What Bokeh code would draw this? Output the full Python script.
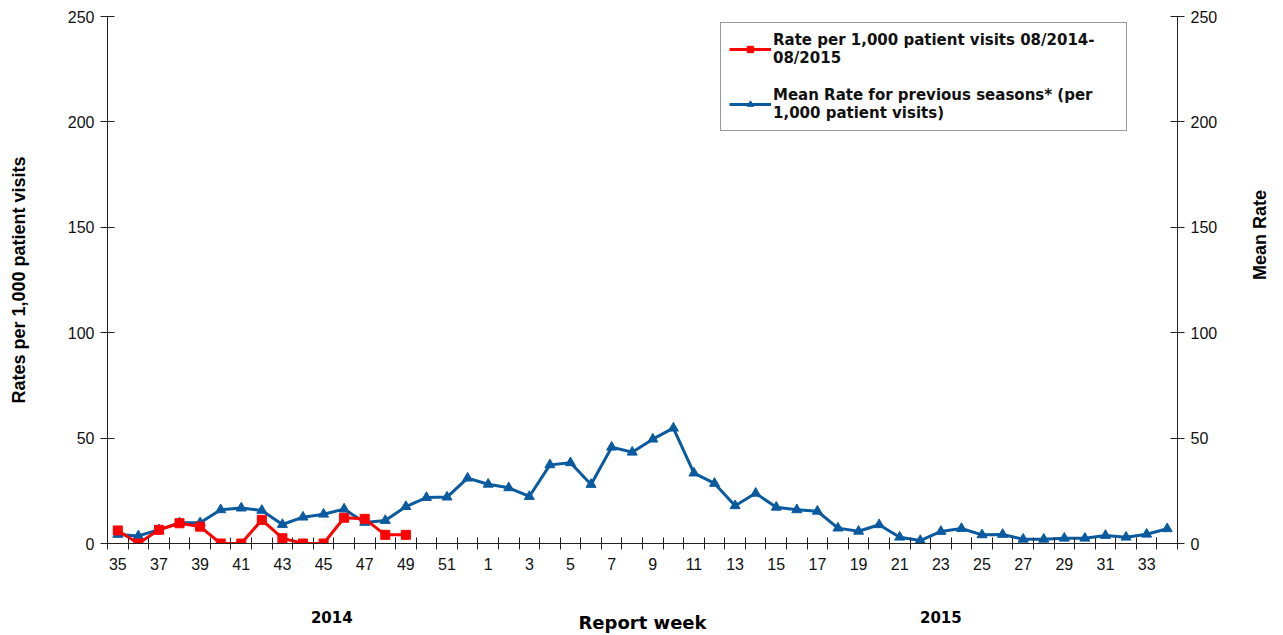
import math
from bokeh.plotting import figure
from bokeh.models import (LinearAxis, Range1d, FixedTicker, Legend, LegendItem,
                          ColumnDataSource)
from bokeh.embed import file_html
from bokeh.resources import INLINE

# ---- data ----
weeks = [35, 36, 37, 38, 39, 40, 41, 42, 43, 44, 45, 46, 47, 48, 49, 50, 51, 52,
         1, 2, 3, 4, 5, 6, 7, 8, 9, 10, 11, 12, 13, 14, 15, 16, 17, 18, 19, 20,
         21, 22, 23, 24, 25, 26, 27, 28, 29, 30, 31, 32, 33, 34]
rate_2014_15 = [6.2, 0.0, 6.5, 9.6, 8.0, 0.0, 0.0, 11.2, 2.5, 0.0, 0.0, 12.2,
                11.7, 4.1, 4.1]
mean_rate = [4.3, 3.6, 6.5, 9.8, 9.8, 16.0, 16.8, 15.7, 9.0, 12.5, 13.9, 16.3,
             10.0, 10.9, 17.5, 21.8, 22.0, 31.0, 28.1, 26.4, 22.3, 37.3, 38.3,
             28.0, 45.7, 43.3, 49.5, 54.7, 33.4, 28.5, 17.9, 23.8, 17.2, 16.0,
             15.3, 7.3, 5.8, 8.9, 3.0, 1.4, 5.7, 7.1, 4.1, 4.3, 2.0, 2.0, 2.5,
             2.5, 3.8, 3.0, 4.4, 7.0]
y_ticks = [0, 50, 100, 150, 200, 250]
year_labels = ["2014", "2015"]
year_label_pos = [10.4, 40.0]
legend_labels = ["Rate per 1,000 patient visits 08/2014-\n08/2015",
                 "Mean Rate for previous seasons* (per\n1,000 patient visits)"]

RED = "#FF0000"
BLUE = "#0A5AA0"
AXIS = "#222222"
FONT = "Liberation Sans"
W, H = 1283, 635

idx_all = list(range(len(weeks)))
red_src = ColumnDataSource(dict(x=idx_all[:len(rate_2014_15)], y=rate_2014_15))
blue_src = ColumnDataSource(dict(x=idx_all[:len(mean_rate)], y=mean_rate))

p = figure(width=W, height=H, output_backend="svg", toolbar_location=None,
           x_range=Range1d(-0.5, len(weeks) - 0.5), y_range=Range1d(0, 250),
           min_border_left=107, min_border_right=105, min_border_top=16,
           min_border_bottom=92, outline_line_color=None)
p.xgrid.visible = False
p.ygrid.visible = False
p.background_fill_color = "white"
p.border_fill_color = "white"

# x axis: labels every other week at centres, tick marks at category boundaries
xax = p.xaxis[0]
xax.ticker = FixedTicker(ticks=idx_all[::2],
                         minor_ticks=[i - 0.5 for i in range(len(weeks) + 1)])
xax.major_label_overrides = {i: str(weeks[i]) for i in idx_all[::2]}
xax.major_tick_line_color = None
xax.minor_tick_line_color = AXIS
xax.minor_tick_in = 6
xax.minor_tick_out = 6
xax.axis_line_color = AXIS
xax.major_label_text_font = FONT
xax.major_label_text_font_size = "16px"
xax.major_label_text_color = "#111111"
xax.major_label_standoff = 8

# second bottom axis: year labels + axis title
yr = LinearAxis(ticker=FixedTicker(ticks=year_label_pos, minor_ticks=[]))
yr.major_label_overrides = {year_label_pos[i]: year_labels[i] for i in range(2)}
yr.axis_line_color = None
yr.major_tick_line_color = None
yr.minor_tick_line_color = None
yr.major_tick_in = 0
yr.major_tick_out = 0
yr.major_label_standoff = 38
yr.major_label_text_font = "DejaVu Sans"
yr.major_label_text_font_style = "bold"
yr.major_label_text_font_size = "15px"
yr.major_label_text_color = "black"
yr.axis_label = "Report week"
yr.axis_label_standoff = -14
yr.axis_label_text_font = "DejaVu Sans"
yr.axis_label_text_font_style = "bold"
yr.axis_label_text_font_size = "18px"
yr.axis_label_text_color = "black"
p.add_layout(yr, "below")

# left y axis
yax = p.yaxis[0]
yax.ticker = FixedTicker(ticks=y_ticks, minor_ticks=[])
yax.major_tick_in = 7
yax.major_tick_out = 7
yax.major_tick_line_color = AXIS
yax.axis_line_color = AXIS
yax.major_label_text_font = FONT
yax.major_label_text_font_size = "16px"
yax.major_label_text_color = "#111111"
yax.major_label_standoff = 6
yax.axis_label = "Rates per 1,000 patient visits"
yax.axis_label_text_font = FONT
yax.axis_label_text_font_style = "bold"
yax.axis_label_text_font_size = "18px"
yax.axis_label_text_color = "black"
yax.axis_label_standoff = 36

# right y axis
rax = LinearAxis(ticker=FixedTicker(ticks=y_ticks, minor_ticks=[]))
rax.major_tick_in = 7
rax.major_tick_out = 7
rax.major_tick_line_color = AXIS
rax.axis_line_color = AXIS
rax.major_label_text_font = FONT
rax.major_label_text_font_size = "16px"
rax.major_label_text_color = "#111111"
rax.major_label_standoff = 6
rax.axis_label = "Mean Rate"
rax.axis_label_orientation = math.pi / 2
rax.axis_label_standoff = 40
rax.axis_label_text_font = FONT
rax.axis_label_text_font_style = "bold"
rax.axis_label_text_font_size = "18px"
rax.axis_label_text_color = "black"
p.add_layout(rax, "right")

# series
bl = p.line("x", "y", source=blue_src, line_color=BLUE, line_width=3)
bm = p.scatter("x", "y", source=blue_src, marker="triangle", size=10,
               fill_color=BLUE, line_color=BLUE)
rl = p.line("x", "y", source=red_src, line_color=RED, line_width=3)
rm = p.scatter("x", "y", source=red_src, marker="square", size=9,
               fill_color=RED, line_color=RED)

legend = Legend(items=[LegendItem(label=legend_labels[0], renderers=[rl, rm]),
                       LegendItem(label=legend_labels[1], renderers=[bl, bm])],
                location=(613, 412), orientation="vertical",
                label_text_font="DejaVu Sans", label_text_font_style="bold",
                label_text_font_size="15px", label_text_color="#111111",
                label_text_line_height=0.95, label_width=345,
                glyph_width=42, glyph_height=16, label_standoff=2,
                spacing=19, padding=8, margin=0,
                border_line_color="#333333", border_line_width=1,
                background_fill_color="white", background_fill_alpha=1.0)
p.add_layout(legend, "center")

open("out.html", "w").write(file_html(p, INLINE))
